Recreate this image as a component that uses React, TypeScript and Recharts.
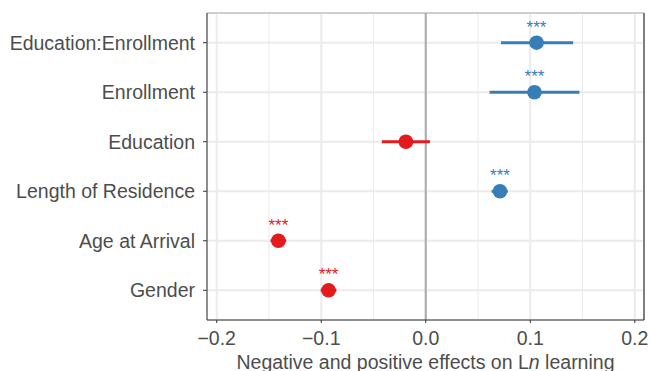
import React from 'react';
import {
    ScatterChart,
    Scatter,
    XAxis,
    YAxis,
    CartesianGrid,
    ErrorBar,
    ReferenceLine,
} from 'recharts';

// top-to-bottom order, as in the figure
const categories = [
    'Education:Enrollment',
    'Enrollment',
    'Education',
    'Length of Residence',
    'Age at Arrival',
    'Gender',
];
const estimates = [0.106, 0.104, -0.019, 0.071, -0.141, -0.093];
const lowerCI = [0.072, 0.061, -0.042, 0.063, -0.1485, -0.1005];
const upperCI = [0.141, 0.147, 0.004, 0.0785, -0.1335, -0.0855];
const stars = ['***', '***', '', '***', '***', '***'];

const xTicks = [-0.2, -0.1, 0, 0.1, 0.2];
const xMinor = [-0.15, -0.05, 0.05, 0.15];
const xDomain = [-0.2093, 0.2088];

const BLUE = '#377EB8';
const RED = '#E41A1C';
const TEXT = '#4D4D4D';
const FONT = '"Liberation Sans", Arial, sans-serif';

const rows = categories.map((name, i) => ({
    name,
    pos: categories.length - 1 - i,
    est: estimates[i],
    err: [estimates[i] - lowerCI[i], upperCI[i] - estimates[i]],
    sig: stars[i],
}));
const positive = rows.filter((r) => r.est >= 0);
const negative = rows.filter((r) => r.est < 0);

const makeDot = (color: string) => (props: any) => {
    const { cx, cy, payload } = props;
    return (
        <g>
            <circle cx={cx} cy={cy} r={7.3} fill={color} />
            {payload.sig ? (
                <text
                    x={cx}
                    y={cy - 10}
                    textAnchor='middle'
                    fontSize={17}
                    fill={color}
                    fontFamily={FONT}
                >
                    {payload.sig}
                </text>
            ) : null}
        </g>
    );
};

const AxisTitle = (props: any) => {
    const vb = props.viewBox || {};
    return (
        <text
            x={vb.x + vb.width / 2}
            y={vb.y + 49}
            textAnchor='middle'
            fontSize={19.5}
            fill={TEXT}
            fontFamily={FONT}
        >
            <tspan>Negative and positive effects on L</tspan>
            <tspan fontStyle='italic'>n</tspan>
            <tspan> learning</tspan>
        </text>
    );
};

const fmtX = (v: number) => (v === 0 ? '0.0' : v < 0 ? '\u2212' + Math.abs(v).toFixed(1) : v.toFixed(1));

const App = () => {
    return (
        <div style={{ position: 'absolute', left: 0, top: 0, width: 649, height: 371, background: '#fff' }}>
            <ScatterChart
                width={649}
                height={371}
                margin={{ top: 13, right: 5, left: 0, bottom: 0 }}
            >
                <CartesianGrid
                    stroke='#EBEBEB'
                    strokeWidth={1}
                    horizontal={false}
                    verticalValues={xMinor}
                />
                <CartesianGrid stroke='#EBEBEB' strokeWidth={2} />
                <XAxis
                    type='number'
                    dataKey='est'
                    domain={xDomain}
                    ticks={xTicks}
                    allowDataOverflow
                    tickFormatter={fmtX}
                    height={51}
                    tickSize={3}
                    tickMargin={8}
                    stroke='#333333'
                    tick={{ fill: TEXT, fontSize: 19.5, fontFamily: FONT }}
                    label={<AxisTitle />}
                />
                <YAxis
                    type='number'
                    dataKey='pos'
                    domain={[-0.6, 5.6]}
                    ticks={[0, 1, 2, 3, 4, 5]}
                    allowDataOverflow
                    tickFormatter={(v: number) => categories[categories.length - 1 - v]}
                    width={207}
                    tickSize={4}
                    tickMargin={8}
                    stroke='#333333'
                    tick={{ fill: TEXT, fontSize: 19.5, fontFamily: FONT }}
                />
                <ReferenceLine y={5.6} stroke='#B3B3B3' strokeWidth={1} />
                <ReferenceLine x={xDomain[1]} stroke='#7F7F7F' strokeWidth={2} />
                <ReferenceLine x={0} stroke='#AAAAAA' strokeWidth={2} />
                <Scatter data={positive} fill={BLUE} shape={makeDot(BLUE)} isAnimationActive={false}>
                    <ErrorBar dataKey='err' direction='x' width={0} stroke={BLUE} strokeWidth={3} />
                </Scatter>
                <Scatter data={negative} fill={RED} shape={makeDot(RED)} isAnimationActive={false}>
                    <ErrorBar dataKey='err' direction='x' width={0} stroke={RED} strokeWidth={3} />
                </Scatter>
            </ScatterChart>
        </div>
    );
};

export default App;
